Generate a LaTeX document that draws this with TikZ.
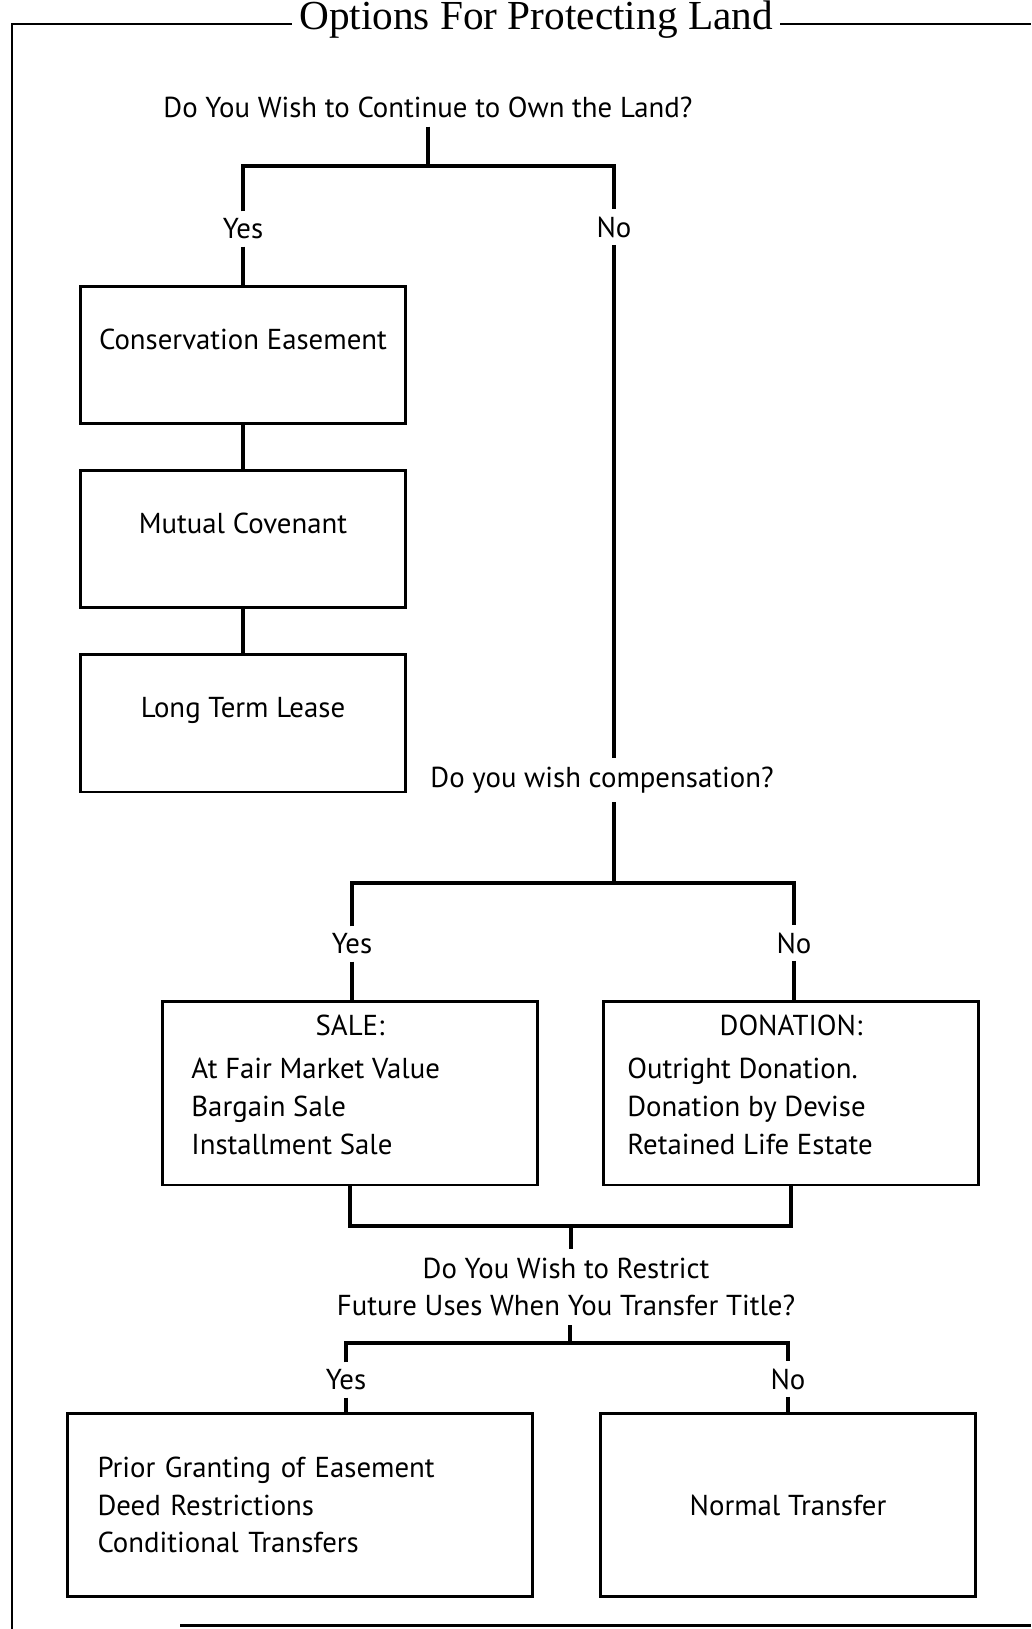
\documentclass[tikz,border=0pt]{standalone}
\usepackage{fontspec}
\setmainfont{PT Sans}
\newfontfamily\titlefont{Liberation Serif}
\usetikzlibrary{positioning}
\tikzset{
  every node/.style={font=\fontsize{16.4}{21.5}\selectfont},
  heading/.style={font=\titlefont\fontsize{23.5}{26}\selectfont, inner xsep=4pt},
  question/.style={inner sep=5pt},
  answer/.style={inner sep=4pt},
  optbox/.style={draw, line width=1.7pt, minimum width=6.5cm, minimum height=2.76cm},
  toptext/.style={text height=1.27cm, text depth=1.49cm, inner ysep=0pt},
  items/.style={align=left, inner sep=0pt},
  link/.style={line width=2.3pt},
  frame/.style={line width=1.7pt},
}

\begin{document}
\begin{tikzpicture}[x=0.02cm, y=-0.02cm]
    \useasboundingbox (0,0) rectangle (1031,1629);

    % frame and title
    \node[heading, anchor=base] (title) at (536,30) {Options For Protecting Land};
    \coordinate (corner) at (12,24);
    \draw[frame] (title.west |- corner) -- (corner) -- (12,1629);
    \draw[frame] (title.east |- corner) -- (1031,24);
    \draw[frame] (180,1625) -- (1031,1625);

    % questions
    \node[question] (own) at (428,107) {Do You Wish to Continue to Own the Land?};
    \node[question] (pay) at (602,780) {Do you wish compensation?};
    \node[question, align=center] (restrict) at (566,1287)
        {Do You Wish to Restrict\\Future Uses When You Transfer Title?};

    % answers
    \node[answer] (yes1) at (243,229) {Yes};
    \node[answer] (no1) at (614,227) {No};
    \node[answer] (yes2) at (352,944) {Yes};
    \node[answer] (no2) at (794,943) {No};
    \node[answer] (yes3) at (346,1380) {Yes};
    \node[answer] (no3) at (788,1379) {No};

    % keeping the land
    \node[optbox, toptext] (ease) at (243,355) {Conservation Easement};
    \node[optbox, toptext] (covenant) at (243,539) {Mutual Covenant};
    \node[optbox, toptext] (lease) at (243,723) {Long Term Lease};

    % sale or donation
    \node[optbox, minimum width=7.5cm, minimum height=3.68cm] (sale) at (350,1093) {};
    \node[below=0.3cm of sale.north, inner sep=0pt] (salehead) {SALE:};
    \node[items, below right=1.17cm and 0.6cm of sale.north west] (saleitems)
        {At Fair Market Value\\Bargain Sale\\Installment Sale};
    \node[optbox, minimum width=7.5cm, minimum height=3.68cm] (dona) at (791,1093) {};
    \node[below=0.3cm of dona.north, inner sep=0pt] (donahead) {DONATION:};
    \node[items, below right=1.17cm and 0.5cm of dona.north west] (donaitems)
        {Outright Donation.\\Donation by Devise\\Retained Life Estate};

    % transfer of title
    \node[optbox, minimum width=9.3cm, minimum height=3.66cm, align=left,
          text width=8.1cm, inner xsep=0.6cm] (grant) at (300,1505)
        {Prior Granting of Easement\\Deed Restrictions\\Conditional Transfers};
    \node[optbox, minimum width=7.5cm, minimum height=3.66cm] (normal) at (788,1505)
        {Normal Transfer};

    % connectors
    \coordinate (fork1) at (428,166);
    \draw[link] (own) -- (fork1);
    \draw[link] (yes1) |- (fork1) -| (no1);
    \draw[link] (yes1) -- (ease);
    \draw[link] (ease) -- (covenant);
    \draw[link] (covenant) -- (lease);
    \draw[link] (no1) -- (no1 |- pay.north);

    \coordinate (fork2) at (614,883);
    \draw[link] (fork2 |- pay.south) -- (fork2);
    \draw[link] (yes2) |- (fork2) -| (no2);
    \draw[link] (yes2) -- (yes2 |- sale.north);
    \draw[link] (no2) -- (no2 |- dona.north);

    \coordinate (join) at (571,1226);
    \draw[link] (sale) |- (join) -| (dona);
    \draw[link] (join) -- (join |- restrict.north);

    \coordinate (fork3) at (570,1343);
    \draw[link] (fork3 |- restrict.south) -- (fork3);
    \draw[link] (yes3) |- (fork3) -| (no3);
    \draw[link] (yes3) -- (yes3 |- grant.north);
    \draw[link] (no3) -- (no3 |- normal.north);
\end{tikzpicture}
\end{document}
